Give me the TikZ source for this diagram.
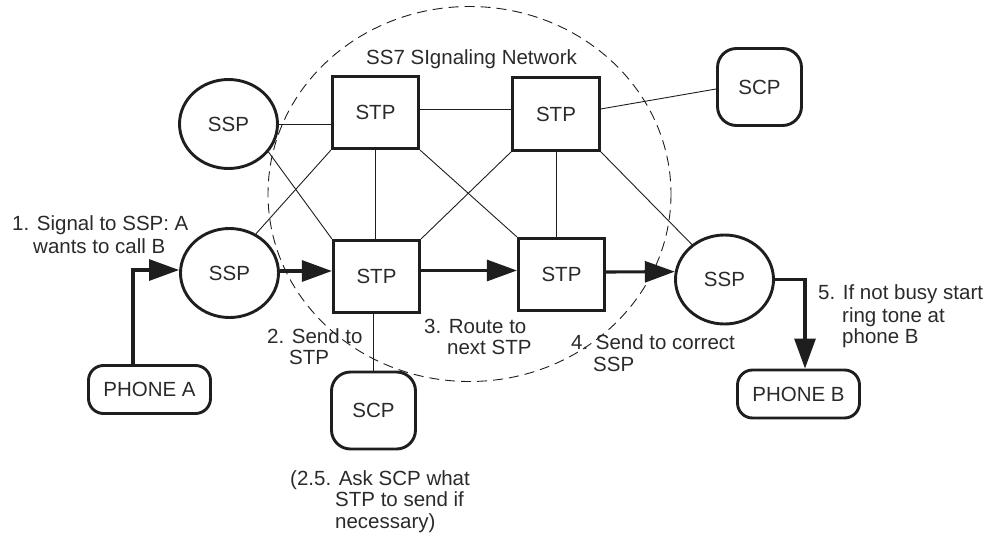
\documentclass[tikz,border=0pt]{standalone}
\usepackage{fontspec}
\setmainfont{Liberation Sans}
\usetikzlibrary{shapes.geometric,arrows.meta}
\definecolor{linec}{HTML}{1E1E1E}
\definecolor{textc}{HTML}{2A2A2A}
\begin{document}
\begin{tikzpicture}[x=1pt,y=-1pt,
  every node/.style={font=\fontsize{20.5}{22}\selectfont, text=textc},
  ssp/.style={ellipse, draw=linec, line width=2.9pt, inner sep=0pt,
    minimum width=98pt, minimum height=89pt},
  stpbox/.style={rectangle, draw=linec, line width=2.7pt, inner sep=0pt,
    minimum width=86.5pt, minimum height=72.5pt},
  scpbox/.style={rectangle, rounded corners=19pt, draw=linec, line width=2.9pt,
    inner sep=0pt, minimum width=84pt, minimum height=77pt},
  phonebox/.style={rectangle, rounded corners=15pt, draw=linec, line width=2.9pt,
    inner sep=0pt, minimum width=122pt, minimum height=48pt},
  link/.style={draw=linec, line width=0.9pt},
  flow/.style={draw=linec, line width=3.1pt, -{Triangle[length=30pt,width=21pt]}},
  lbl/.style={anchor=base west, inner sep=0pt}]
\useasboundingbox (0,0) rectangle (986,536);

% signalling network boundary
\draw[linec, line width=0.9pt, dash pattern=on 10pt off 6pt]
  (469.5,194) ellipse [x radius=201.5, y radius=187.5];
\node[lbl] (title) at (366,64) {SS7 SIgnaling Network};

% switching points, transfer points, control points
\node[ssp] (ssp1) at (228.5,124) {SSP};
\node[ssp] (ssp2) at (229.5,273) {SSP};
\node[ssp] (sspr) at (724.5,279.5) {SSP};
\node[stpbox] (stptl) at (375.5,112.5) {STP};
\node[stpbox] (stptr) at (556,114) {STP};
\node[stpbox] (stpml) at (376.5,276.5) {STP};
\node[stpbox] (stpmr) at (561.5,274.5) {STP};
\node[scpbox] (scpt) at (759.5,87) {SCP};
\node[scpbox] (scpb) at (373.5,410.5) {SCP};
\node[phonebox] (phoneA) at (149.5,389.5) {PHONE A};
\node[phonebox] (phoneB) at (798.5,394) {PHONE B};

% signalling links
\draw[link] (ssp1.east) -- (ssp1.east -| stptl.west);
\draw[link] ([yshift=3.5pt]stptl.east) -- ([yshift=5pt]stptr.west);
\draw[link] ([yshift=5pt]stptr.east) -- ([yshift=-2pt]scpt.west);
\draw[link] (ssp1.-35) -- (stpml.north west);
\draw[link] (ssp2.56) -- (stptl.south west);
\draw[link] (stptl.south) -- (stptl.south |- stpml.north);
\draw[link] (stptl.south east) -- (stpmr.north west);
\draw[link] (stptr.south west) -- (stpml.north east);
\draw[link] (stptr.south) -- (stptr.south |- stpmr.north);
\draw[link] (stptr.south east) -- (sspr.133);
\draw[link] (stpml.south -| scpb.north) -- (scpb.north);

% call set-up path
\draw[flow] ([xshift=-16.5pt]phoneA.north) |- ([yshift=3pt]ssp2.west);
\draw[flow] ([yshift=2pt]ssp2.east) -- ([yshift=5.5pt]stpml.west);
\draw[flow] ([yshift=6pt]stpml.east) -- ([yshift=4pt]stpmr.west);
\draw[flow] ([yshift=2.5pt]stpmr.east) -- (sspr.171);
\draw[flow] (sspr.east) -| ([xshift=6.5pt]phoneB.north);

% step descriptions
\node[lbl] (s1a) at (12,230) {1. Signal to SSP: A};
\node[lbl] (s1b) at (33,253) {wants to call B};
\node[lbl] (s2a) at (267,343) {2. Send to};
\node[lbl] (s2b) at (289,364) {STP};
\node[lbl] (s3a) at (424,333) {3. Route to};
\node[lbl] (s3b) at (447,354) {next STP};
\node[lbl] (s25a) at (290,485) {(2.5. Ask SCP what};
\node[lbl] (s25b) at (335,506) {STP to send if};
\node[lbl] (s25c) at (335,528) {necessary)};
\node[lbl] (s4a) at (571,349) {4. Send to correct};
\node[lbl] (s4b) at (593,371) {SSP};
\node[lbl] (s5a) at (818,299) {5. If not busy start};
\node[lbl] (s5b) at (842,322) {ring tone at};
\node[lbl] (s5c) at (842,343) {phone B};
\end{tikzpicture}
\end{document}
